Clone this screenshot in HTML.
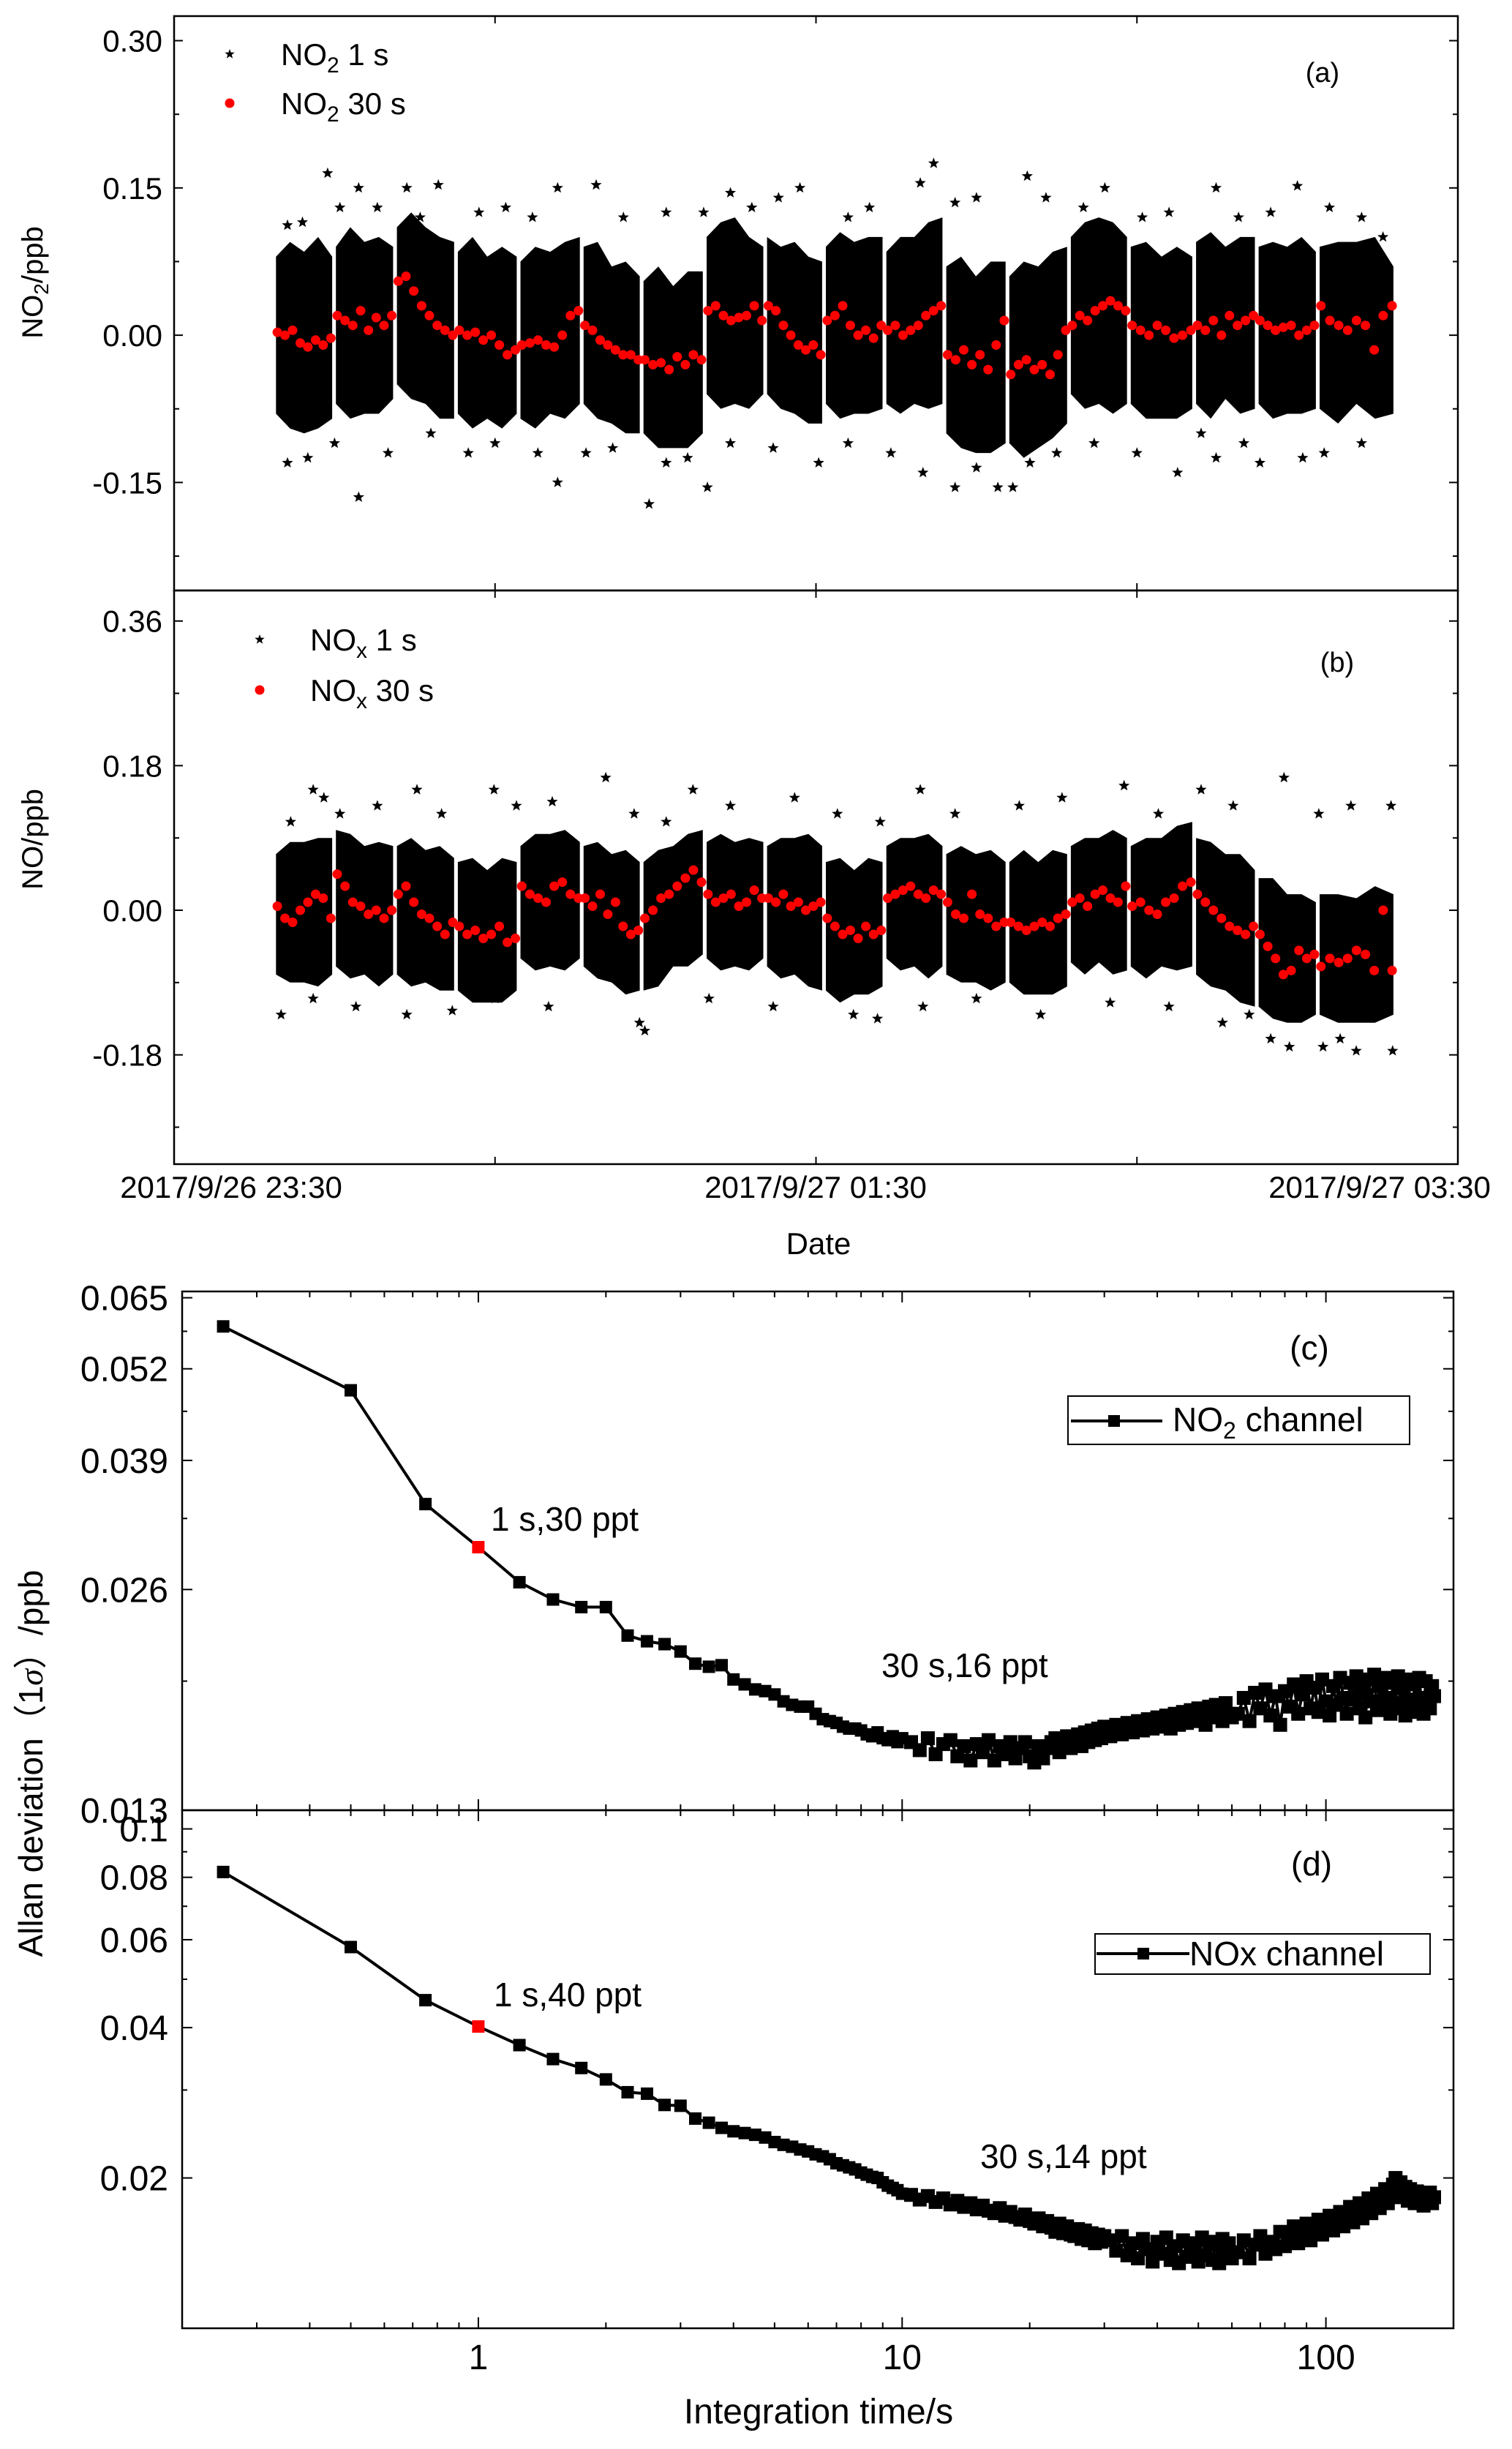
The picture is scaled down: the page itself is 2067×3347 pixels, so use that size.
<!DOCTYPE html>
<html><head><meta charset="utf-8"><title>NO2 / NOx noise and Allan deviation</title>
<style>
html,body{margin:0;padding:0;background:#fff;}
svg{display:block;font-family:"Liberation Sans","Noto Sans CJK SC",sans-serif;}
</style></head>
<body>
<svg id="fig" width="2067" height="3347" viewBox="0 0 2067 3347" xmlns="http://www.w3.org/2000/svg">
<rect width="2067" height="3347" fill="#fff"/>
<g id="layerA"></g>
<g id="layerB"></g>
<g id="layerC"></g>
<g id="layerD"></g>
<g id="layerT">
<text x="384" y="89" font-size="42">NO<tspan font-size="30" dy="10">2</tspan><tspan dy="-10"> 1 s</tspan></text>
<text x="384" y="156" font-size="42">NO<tspan font-size="30" dy="10">2</tspan><tspan dy="-10"> 30 s</tspan></text>
<text x="1808" y="112" font-size="38" text-anchor="middle">(a)</text>
<text x="424" y="889" font-size="42">NO<tspan font-size="30" dy="10">x</tspan><tspan dy="-10"> 1 s</tspan></text>
<text x="424" y="958" font-size="42">NO<tspan font-size="30" dy="10">x</tspan><tspan dy="-10"> 30 s</tspan></text>
<text x="1828" y="918" font-size="38" text-anchor="middle">(b)</text>
<text transform="translate(58,386) rotate(-90)" font-size="40" text-anchor="middle">NO<tspan font-size="28" dy="8">2</tspan><tspan dy="-8">/ppb</tspan></text>
<text transform="translate(58,1147) rotate(-90)" font-size="40" text-anchor="middle">NO/ppb</text>
<text x="316" y="1637" font-size="42" text-anchor="middle">2017/9/26 23:30</text>
<text x="1115" y="1637" font-size="42" text-anchor="middle">2017/9/27 01:30</text>
<text x="1886" y="1637" font-size="42" text-anchor="middle">2017/9/27 03:30</text>
<text x="1119" y="1714" font-size="42" text-anchor="middle">Date</text>
<text x="1790" y="1858" font-size="46" text-anchor="middle">(c)</text>
<text x="1793" y="2563" font-size="46" text-anchor="middle">(d)</text>
<text x="671" y="2092" font-size="46">1 s,30 ppt</text>
<text x="1205" y="2292" font-size="46">30 s,16 ppt</text>
<text x="675" y="2742" font-size="46">1 s,40 ppt</text>
<text x="1340" y="2963" font-size="46">30 s,14 ppt</text>
<g>
<rect x="1460" y="1908" width="467" height="66" fill="#fff" stroke="#000" stroke-width="2"/>
<line x1="1464" y1="1942" x2="1589" y2="1942" stroke="#000" stroke-width="4"/>
<rect x="1515" y="1934" width="16" height="16" fill="#000"/>
<text x="1603" y="1956" font-size="46">NO<tspan font-size="32" dy="10">2</tspan><tspan dy="-10"> channel</tspan></text>
</g>
<g>
<rect x="1497" y="2643" width="458" height="55" fill="#fff" stroke="#000" stroke-width="2"/>
<line x1="1499" y1="2670" x2="1626" y2="2670" stroke="#000" stroke-width="4"/>
<rect x="1555" y="2662" width="16" height="16" fill="#000"/>
<text x="1626" y="2686" font-size="46">NOx channel</text>
</g>
<text transform="translate(58,2410) rotate(-90)" font-size="46" text-anchor="middle">Allan deviation（1<tspan font-family="Liberation Serif" font-style="italic">σ</tspan>）/ppb</text>
<text x="1119" y="3312" font-size="48" text-anchor="middle">Integration time/s</text>
</g>
</svg>
<script>
// ---------- data: panels (a),(b) ----------
const blockEdges = [18.7,29.9,41.3,52.7,64.4,76.2,87.4,99.2,110.5,121.5,132.8,144.0,155.8,167.3,178.5,190.7,202.4,213.8,228.3];
const aMeans = [
[0.003,0.0,0.005,-0.008,-0.012,-0.005,-0.010,-0.003],
[0.02,0.015,0.01,0.025,0.005,0.018,0.01,0.02],
[0.055,0.06,0.045,0.03,0.02,0.01,0.005,0.0],
[0.005,0.0,0.003,-0.005,0.0,-0.01,-0.02,-0.015],
[-0.01,-0.008,-0.005,-0.01,-0.012,0.0,0.02,0.025],
[0.01,0.005,-0.005,-0.01,-0.015,-0.02,-0.02,-0.025],
[-0.025,-0.03,-0.028,-0.035,-0.022,-0.03,-0.02,-0.025],
[0.025,0.03,0.02,0.015,0.018,0.02,0.03,0.015],
[0.03,0.025,0.01,0.0,-0.01,-0.015,-0.01,-0.02],
[0.015,0.02,0.03,0.01,0.0,0.005,-0.003,0.01],
[0.005,0.01,0.0,0.005,0.01,0.02,0.025,0.03],
[-0.02,-0.025,-0.015,-0.03,-0.02,-0.035,-0.01,0.015],
[-0.04,-0.03,-0.025,-0.035,-0.03,-0.04,-0.02,0.005],
[0.01,0.02,0.015,0.025,0.03,0.035,0.03,0.025],
[0.01,0.005,0.0,0.01,0.005,-0.003,0.0,0.005],
[0.01,0.005,0.015,0.0,0.02,0.01,0.015,0.02],
[0.015,0.01,0.005,0.008,0.01,0.0,0.005,0.01],
[0.03,0.015,0.01,0.005,0.015,0.01,-0.015,0.02,0.03]];
const bMeans = [
[0.005,-0.01,-0.015,0.0,0.01,0.02,0.015,-0.01],
[0.045,0.03,0.01,0.005,-0.005,0.0,-0.01,0.0],
[0.02,0.03,0.01,-0.005,-0.01,-0.02,-0.03,-0.015],
[-0.02,-0.03,-0.025,-0.035,-0.03,-0.02,-0.04,-0.035],
[0.03,0.02,0.015,0.01,0.03,0.035,0.02,0.015],
[0.015,0.005,0.02,-0.005,0.01,-0.02,-0.03,-0.025],
[-0.01,0.0,0.015,0.02,0.03,0.04,0.05,0.035],
[0.02,0.01,0.015,0.02,0.005,0.01,0.025,0.015],
[0.015,0.01,0.02,0.005,0.01,0.0,0.005,0.01],
[-0.01,-0.02,-0.03,-0.025,-0.035,-0.02,-0.03,-0.025],
[0.015,0.02,0.025,0.03,0.02,0.015,0.025,0.02],
[0.01,-0.005,-0.01,0.02,-0.005,-0.01,-0.02,-0.015],
[-0.015,-0.02,-0.025,-0.02,-0.015,-0.02,-0.01,-0.005],
[0.01,0.015,0.005,0.02,0.025,0.015,0.01,0.03],
[0.005,0.01,0.0,-0.005,0.01,0.015,0.03,0.035],
[0.02,0.01,0.0,-0.01,-0.02,-0.025,-0.03,-0.02],
[-0.03,-0.045,-0.06,-0.08,-0.075,-0.05,-0.06,-0.055],
[-0.07,-0.06,-0.065,-0.06,-0.05,-0.055,-0.075,0.0,-0.075]];
const aHi = [[0.08,0.095,0.085,0.1,0.08],[0.09,0.11,0.095,0.1,0.09],[0.11,0.125,0.11,0.1,0.095],[0.085,0.1,0.08,0.09,0.08],[0.075,0.09,0.085,0.095,0.1],[0.09,0.095,0.07,0.075,0.06],[0.055,0.07,0.05,0.065,0.065],[0.1,0.115,0.12,0.1,0.09],[0.1,0.09,0.095,0.08,0.075],[0.09,0.105,0.095,0.1,0.1],[0.085,0.1,0.1,0.115,0.12],[0.07,0.08,0.06,0.075,0.075],[0.06,0.075,0.07,0.085,0.09],[0.1,0.115,0.12,0.115,0.1],[0.09,0.095,0.08,0.09,0.08],[0.095,0.105,0.09,0.1,0.1],[0.09,0.095,0.09,0.1,0.085],[0.09,0.095,0.095,0.1,0.07]];
const aLo = [[-0.08,-0.095,-0.1,-0.095,-0.085],[-0.07,-0.085,-0.08,-0.08,-0.065],[-0.05,-0.065,-0.07,-0.085,-0.085],[-0.08,-0.095,-0.085,-0.095,-0.08],[-0.085,-0.095,-0.08,-0.085,-0.07],[-0.07,-0.085,-0.09,-0.1,-0.1],[-0.1,-0.115,-0.115,-0.115,-0.1],[-0.06,-0.075,-0.07,-0.075,-0.06],[-0.06,-0.075,-0.08,-0.09,-0.09],[-0.07,-0.085,-0.08,-0.08,-0.075],[-0.07,-0.08,-0.07,-0.075,-0.07],[-0.1,-0.115,-0.12,-0.12,-0.11],[-0.11,-0.125,-0.115,-0.105,-0.09],[-0.06,-0.075,-0.07,-0.08,-0.07],[-0.07,-0.085,-0.085,-0.085,-0.075],[-0.07,-0.085,-0.065,-0.08,-0.075],[-0.07,-0.085,-0.08,-0.08,-0.075],[-0.075,-0.09,-0.07,-0.085,-0.08]];
const bHi = [[0.07,0.085,0.085,0.09,0.09],[0.1,0.095,0.08,0.085,0.08],[0.08,0.09,0.075,0.08,0.065],[0.06,0.065,0.05,0.065,0.06],[0.08,0.095,0.095,0.1,0.085],[0.08,0.085,0.07,0.075,0.06],[0.06,0.075,0.08,0.095,0.1],[0.085,0.095,0.085,0.09,0.085],[0.08,0.09,0.09,0.095,0.08],[0.06,0.065,0.05,0.065,0.06],[0.08,0.09,0.09,0.095,0.08],[0.07,0.08,0.07,0.075,0.06],[0.06,0.075,0.06,0.075,0.07],[0.08,0.09,0.09,0.1,0.09],[0.08,0.09,0.09,0.105,0.11],[0.09,0.085,0.07,0.07,0.05],[0.04,0.04,0.02,0.02,0.01],[0.02,0.02,0.015,0.03,0.02]];
const bLo = [[-0.08,-0.09,-0.09,-0.095,-0.08],[-0.07,-0.085,-0.08,-0.095,-0.08],[-0.08,-0.095,-0.09,-0.1,-0.1],[-0.1,-0.115,-0.115,-0.115,-0.1],[-0.06,-0.075,-0.07,-0.075,-0.06],[-0.07,-0.085,-0.09,-0.105,-0.1],[-0.1,-0.095,-0.07,-0.07,-0.055],[-0.06,-0.075,-0.07,-0.075,-0.06],[-0.07,-0.085,-0.08,-0.095,-0.1],[-0.1,-0.115,-0.105,-0.105,-0.095],[-0.06,-0.075,-0.07,-0.085,-0.07],[-0.08,-0.09,-0.09,-0.1,-0.09],[-0.09,-0.105,-0.105,-0.105,-0.095],[-0.065,-0.08,-0.065,-0.08,-0.075],[-0.07,-0.085,-0.07,-0.075,-0.07],[-0.08,-0.095,-0.1,-0.115,-0.12],[-0.12,-0.135,-0.14,-0.14,-0.13],[-0.13,-0.14,-0.14,-0.14,-0.13]];
const aOutT = [28.7,34.5,43.5,49.4,78.9,71.7,104,117,142,139.5,159.5,174,194.8,210,150,21.2,24,38,46,57,62,84,92,108,113,126,130,146,163,170,181,186,199,205,216,222,226,31,67,99];
const aOutV = [0.165,0.15,0.15,0.153,0.153,0.15,0.145,0.15,0.175,0.155,0.162,0.15,0.15,0.152,0.14,0.112,0.115,0.13,0.12,0.125,0.13,0.12,0.125,0.13,0.14,0.12,0.13,0.135,0.14,0.13,0.12,0.125,0.12,0.125,0.13,0.12,0.1,0.13,0.12,0.125];
const aOutT2 = [34.5,21.2,71.7,88.8,99.7,146,154,156.8,120.5,187.6,203,211,194.8,68,96,25,30,40,48,55,60,77,82,92,104,112,126,134,140,150,160,165,172,180,192,200,215,222];
const aOutV2 = [-0.165,-0.13,-0.15,-0.172,-0.155,-0.155,-0.155,-0.155,-0.13,-0.14,-0.13,-0.125,-0.125,-0.12,-0.125,-0.125,-0.11,-0.12,-0.1,-0.12,-0.11,-0.12,-0.115,-0.13,-0.11,-0.115,-0.11,-0.12,-0.14,-0.135,-0.13,-0.12,-0.11,-0.12,-0.1,-0.11,-0.12,-0.11];
const bOutT = [21.8,26,45.4,59.8,80.7,97,116,139.5,177.6,207.5,220,227.5,192,70.7,31,38,50,64,86,104,124,132,146,158,166,184,198,214,28,92];
const bOutV = [0.11,0.15,0.15,0.15,0.165,0.15,0.14,0.15,0.155,0.165,0.13,0.13,0.15,0.135,0.12,0.13,0.12,0.13,0.12,0.13,0.12,0.11,0.12,0.13,0.14,0.12,0.13,0.12,0.14,0.11];
const bOutT2 = [20,43.5,88,87,127,131.5,162,208.5,214.8,221,227.8,201,26,34,52,60,70,100,112,140,150,175,186,196,205,218];
const bOutV2 = [-0.13,-0.13,-0.15,-0.14,-0.13,-0.135,-0.13,-0.17,-0.17,-0.175,-0.175,-0.13,-0.11,-0.12,-0.125,-0.11,-0.12,-0.11,-0.12,-0.12,-0.11,-0.115,-0.12,-0.14,-0.16,-0.16];
const aTicks = [0.30,0.15,0.00,-0.15];
const aTickLabels = ["0.30","0.15","0.00","-0.15"];
const bTicks = [0.36,0.18,0.00,-0.18];
const bTickLabels = ["0.36","0.18","0.00","-0.18"];

// ---------- data: panels (c),(d) ----------
const cVals = [0.0594,0.0486,0.0340,0.0297,0.0266,0.0252,0.0246,0.0246,0.0225,0.0221,0.0219,0.0214,0.0206,0.0204,0.0205,0.0196,
0.0193,0.0190,0.0189,0.0187,0.0183,0.0181,0.0180,0.0180,0.0176,0.0173,0.0172,0.0171,0.0169,0.0168,0.0168,0.0167,0.0165,0.0164,0.0166,0.0163,0.0162,0.0164,0.0161,0.0163,
0.0161,0.0157,0.0163,0.0155,0.0160,0.0162,0.0154,0.0159,0.0152,0.0160,0.0156,0.0162,0.0152,0.0159,0.0155,0.0161,0.0153,0.0158,0.0161,0.0154,
0.0151,0.0159,0.0153,0.0158,0.0161,0.0163,0.0156,0.0162,0.0164,0.0158,0.0163,0.0165,0.0159,0.0166,0.0161,0.0167,0.0162,0.0168,0.0163,0.0169,
0.0164,0.0170,0.0165,0.0171,0.0166,0.0172,0.0167,0.0173,0.0168,0.0174,0.0169,0.0175,0.0168,0.0176,0.0170,0.0177,0.0171,0.0178,0.0172,0.0179,
0.0173,0.0170,0.0180,0.0174,0.0181,0.0175,0.0172,0.0182,0.0176,0.0174,
0.0176,0.0185,0.0172,0.0188,0.0179,0.0190,0.0175,0.0186,0.0170,0.0189,0.0180,0.0193,0.0176,0.0187,0.0195,0.0179,0.0191,0.0177,0.0196,0.0183,
0.0175,0.0192,0.0181,0.0197,0.0185,0.0176,0.0194,0.0184,0.0198,0.0179,0.0190,0.0174,0.0196,0.0183,0.0199,0.0178,0.0192,0.0181,0.0197,0.0185,
0.0176,0.0194,0.0182,0.0198,0.0179,0.0191,0.0175,0.0196,0.0184,0.0177,0.0193,0.0180,0.0197,0.0183,0.0176,0.0195,0.0185,0.0179,0.0192,0.0186];
const dVals = [0.082,0.058,0.0454,0.0402,0.0369,0.0346,0.0332,0.0315,0.0297,0.0295,0.0280,0.0279,0.0263,0.0258,0.0252,0.0248,
0.0246,0.0244,0.0241,0.0236,0.0233,0.0231,0.0228,0.0226,0.0223,0.0221,0.0218,0.0214,0.0212,0.0210,0.0208,0.0205,0.0203,0.0201,0.0200,0.0196,0.0193,0.0191,0.0189,0.0186,
0.0185,0.0181,0.0184,0.0179,0.0182,0.0177,0.0180,0.0175,0.0178,0.0173,0.0176,0.0172,0.0170,0.0174,0.0168,0.0171,0.0167,0.0165,0.0169,0.0164,
0.0162,0.0166,0.0160,0.0164,0.0159,0.0156,0.0162,0.0155,0.0160,0.0154,0.0153,0.0158,0.0151,0.0157,0.0150,0.0155,0.0148,0.0154,0.0149,0.0153,
0.0150,0.0143,0.0153,0.0140,0.0148,0.0138,0.0151,0.0144,0.0136,0.0149,0.0141,0.0152,0.0137,0.0146,0.0135,0.0150,0.0139,0.0148,0.0143,0.0136,
0.0152,0.0140,0.0149,0.0137,0.0147,0.0135,0.0151,0.0141,0.0148,0.0138,
0.0142,0.0150,0.0138,0.0147,0.0153,0.0141,0.0149,0.0144,0.0156,0.0146,0.0152,0.0160,0.0148,0.0155,0.0162,0.0150,0.0158,0.0165,0.0154,0.0161,
0.0168,0.0157,0.0164,0.0171,0.0160,0.0169,0.0175,0.0163,0.0172,0.0178,0.0166,0.0176,0.0182,0.0170,0.0180,0.0186,0.0174,0.0184,0.0190,0.0178,
0.0188,0.0194,0.0200,0.0183,0.0196,0.0187,0.0192,0.0180,0.0190,0.0185,0.0178,0.0188,0.0182,0.0186,0.0176,0.0184,0.0180,0.0187,0.0178,0.0183];
const cTicks = [0.013,0.026,0.039,0.052,0.065];
const cTickLabels = ["0.013","0.026","0.039","0.052","0.065"];
const dTicks = [0.02,0.04,0.06,0.08,0.1];
const dTickLabels = ["0.02","0.04","0.06","0.08","0.1"];
const logXTicks = [1,10,100];
const logXTickLabels = ["1","10","100"];

// ---------- scales ----------
const NS = "http://www.w3.org/2000/svg";
const xT = m => 238 + m*(1993-238)/240;
const yA = v => 22 + (0.325-v)/(0.325+0.26)*785;
const yB = v => 807 + (0.398-v)/(0.398+0.316)*784;
const xL = t => 249 + (Math.log10(t)-Math.log10(0.2))/3*(1987-249);
const yC = v => 2474 - Math.log10(v/0.013)/Math.log10(0.0663/0.013)*709;
const yD = v => 3182 - Math.log10(v/0.01)/Math.log10(0.109/0.01)*708;

function mk(tag, attrs, parent){
  const el = document.createElementNS(NS, tag);
  for (const k in attrs) el.setAttribute(k, attrs[k]);
  parent.appendChild(el);
  return el;
}
function starPts(cx, cy, r){
  let p = [];
  for (let i=0;i<10;i++){
    const a = -Math.PI/2 + i*Math.PI/5;
    const rr = i%2===0 ? r : r*0.42;
    p.push((cx+rr*Math.cos(a)).toFixed(1)+","+(cy+rr*Math.sin(a)).toFixed(1));
  }
  return p.join(" ");
}

function scatterPanel(layer, yS, means, hi, lo, outT, outV, outT2, outV2){
  for (let b=0;b<means.length;b++){
    const s = blockEdges[b]+0.35, e = blockEdges[b+1]-0.35;
    const n = hi[b].length;
    let pts = [];
    for (let i=0;i<n;i++) pts.push(xT(s+(e-s)*i/(n-1)).toFixed(1)+","+yS(hi[b][i]).toFixed(1));
    for (let i=n-1;i>=0;i--) pts.push(xT(s+(e-s)*i/(n-1)).toFixed(1)+","+yS(lo[b][i]).toFixed(1));
    const poly = mk("polygon",{points:pts.join(" "), fill:"#000"}, layer);
    
    
  }
  const allT = outT.concat(outT2), allV = outV.concat(outV2);
  for (let i=0;i<allT.length;i++){
    const st = mk("polygon",{points:starPts(xT(allT[i]), yS(allV[i]), 8), fill:"#000"}, layer);
    
    
  }
  for (let b=0;b<means.length;b++){
    const s = blockEdges[b]+0.6, e = blockEdges[b+1]-0.6;
    const n = means[b].length;
    for (let i=0;i<n;i++){
      const c = mk("circle",{cx:xT(s+(e-s)*i/(n-1)).toFixed(1), cy:yS(means[b][i]).toFixed(1), r:6.5, fill:"#ff0000"}, layer);
      
      
    }
  }
}

function linAxes(layer, yS, top, bot, ticks, labels, minorStep){
  const fr = mk("rect",{x:238,y:top,width:1755,height:bot-top,fill:"none",stroke:"#000","stroke-width":2.5}, layer);
  
  
  for (let i=0;i<ticks.length;i++){
    const y = yS(ticks[i]);
    mk("line",{x1:238,y1:y,x2:250,y2:y,stroke:"#000","stroke-width":2}, layer);
    mk("line",{x1:1993,y1:y,x2:1981,y2:y,stroke:"#000","stroke-width":2}, layer);
    const t = mk("text",{x:222,y:y+15,"font-size":42,"text-anchor":"end"}, layer);
    t.textContent = labels[i];
    
    
    const ym = yS(ticks[i]-minorStep);
    if (ym < bot-4) {
      mk("line",{x1:238,y1:ym,x2:245,y2:ym,stroke:"#000","stroke-width":2}, layer);
      mk("line",{x1:1993,y1:ym,x2:1986,y2:ym,stroke:"#000","stroke-width":2}, layer);
    }
  }
  [60,120,180].forEach(m=>{
    const x = xT(m);
    mk("line",{x1:x,y1:top,x2:x,y2:top+10,stroke:"#000","stroke-width":2}, layer);
    mk("line",{x1:x,y1:bot,x2:x,y2:bot-10,stroke:"#000","stroke-width":2}, layer);
  });
}

const LA = document.getElementById("layerA"), LB = document.getElementById("layerB");
scatterPanel(LA, yA, aMeans, aHi, aLo, aOutT, aOutV, aOutT2, aOutV2);
scatterPanel(LB, yB, bMeans, bHi, bLo, bOutT, bOutV, bOutT2, bOutV2);
linAxes(LA, yA, 22, 807, aTicks, aTickLabels, 0.075);
linAxes(LB, yB, 807, 1591, bTicks, bTickLabels, 0.09);
[[LA,314,74,"star"],[LA,314,141,"dot"],[LB,355,874,"star"],[LB,355,943,"dot"]].forEach(d=>{
  let el;
  if (d[3]==="star") el = mk("polygon",{points:starPts(d[1],d[2],7),fill:"#000"}, d[0]);
  else el = mk("circle",{cx:d[1],cy:d[2],r:6.5,fill:"#ff0000"}, d[0]);
  
  
});

// ---------- Allan panels ----------
const taus = [];
for (let t=0.25;t<=10.001;t+=0.25) taus.push(+t.toFixed(2));
for (let t=10.5;t<=30.001;t+=0.5) taus.push(+t.toFixed(2));
for (let t=31;t<=60;t+=1) taus.push(t);
for (let t=62;t<=180;t+=2) taus.push(t);

function allanPanel(layer, yS, vals, top, bot, ticks, labels, minorVals, name){
  const n = Math.min(taus.length, vals.length);
  let d = "";
  for (let i=0;i<n;i++) d += (i?"L":"M") + xL(taus[i]).toFixed(1) + "," + yS(vals[i]).toFixed(1);
  const p = mk("path",{d:d,fill:"none",stroke:"#000","stroke-width":4,"stroke-linejoin":"round"}, layer);
  
  
  for (let i=0;i<n;i++){
    const red = taus[i]===1;
    const sz = taus[i] > 10 ? 19 : 17;
    const r = mk("rect",{x:(xL(taus[i])-sz/2).toFixed(1),y:(yS(vals[i])-sz/2).toFixed(1),width:sz,height:sz,fill:red?"#ff0000":"#000"}, layer);
    
    
  }
  const fr = mk("rect",{x:249,y:top,width:1738,height:bot-top,fill:"none",stroke:"#000","stroke-width":2.5}, layer);
  
  
  for (let i=0;i<ticks.length;i++){
    const y = yS(ticks[i]);
    mk("line",{x1:249,y1:y,x2:263,y2:y,stroke:"#000","stroke-width":2}, layer);
    mk("line",{x1:1987,y1:y,x2:1973,y2:y,stroke:"#000","stroke-width":2}, layer);
    const t = mk("text",{x:230,y:y+17,"font-size":48,"text-anchor":"end"}, layer);
    t.textContent = labels[i];
    
    
  }
  minorVals.forEach(v=>{
    const y = yS(v);
    if (y>top+2 && y<bot-2){
      mk("line",{x1:249,y1:y,x2:256,y2:y,stroke:"#000","stroke-width":2}, layer);
      mk("line",{x1:1987,y1:y,x2:1980,y2:y,stroke:"#000","stroke-width":2}, layer);
    }
  });
  [0.2,0.3,0.4,0.5,0.6,0.7,0.8,0.9,2,3,4,5,6,7,8,9,20,30,40,50,60,70,80,90,200].forEach(t=>{
    const x = xL(t);
    mk("line",{x1:x,y1:bot,x2:x,y2:bot-8,stroke:"#000","stroke-width":2}, layer);
    mk("line",{x1:x,y1:top,x2:x,y2:top+8,stroke:"#000","stroke-width":2}, layer);
  });
  logXTicks.forEach(t=>{
    const x = xL(t);
    mk("line",{x1:x,y1:bot,x2:x,y2:bot-15,stroke:"#000","stroke-width":2}, layer);
    mk("line",{x1:x,y1:top,x2:x,y2:top+15,stroke:"#000","stroke-width":2}, layer);
  });
}
const LC = document.getElementById("layerC"), LD = document.getElementById("layerD");
allanPanel(LC, yC, cVals, 1765, 2474, cTicks, cTickLabels, [0.0195,0.0325,0.0455,0.0585], "no2-allan");
allanPanel(LD, yD, dVals, 2474, 3182, dTicks, dTickLabels, [0.03,0.05,0.07,0.09], "nox-allan");
for (let i=0;i<logXTicks.length;i++){
  const t = mk("text",{x:xL(logXTicks[i]),y:3238,"font-size":48,"text-anchor":"middle"}, LD);
  t.textContent = logXTickLabels[i];
  
  
}
</script>
</body></html>
